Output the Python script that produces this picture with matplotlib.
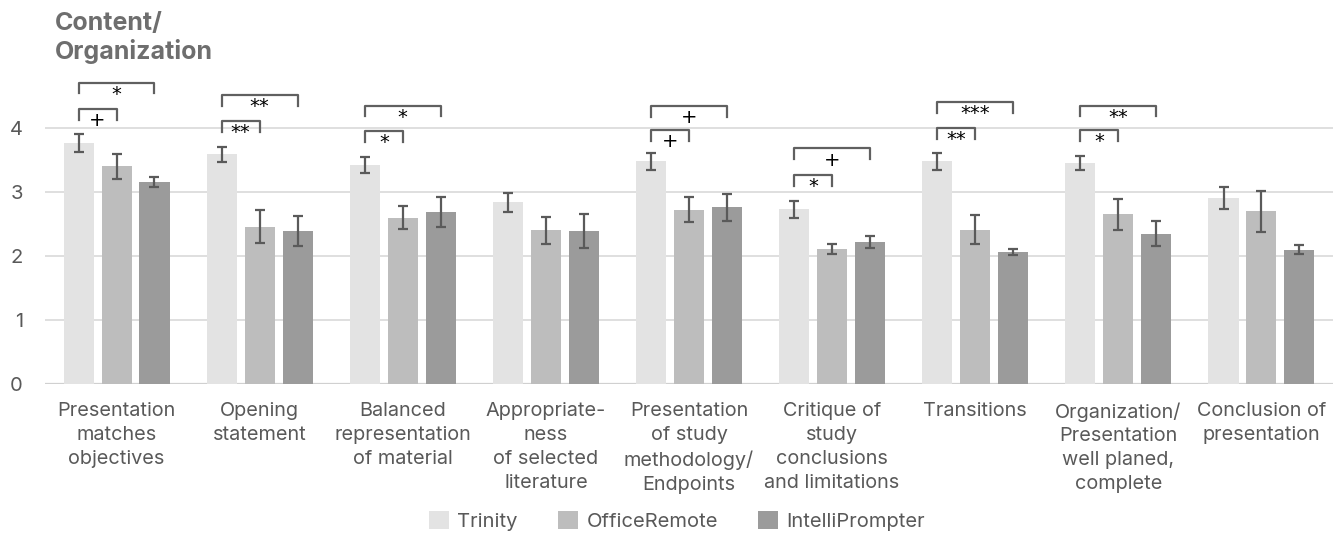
import matplotlib
matplotlib.use('Agg')
import matplotlib.pyplot as plt
import numpy as np

categories = ['Presentation\nmatches\nobjectives', 'Opening\nstatement',
              'Balanced\nrepresentation\nof material',
              'Appropriate-\nness\nof selected\nliterature',
              'Presentation\nof study\nmethodology/\nEndpoints',
              'Critique of\nstudy\nconclusions\nand limitations',
              'Transitions',
              'Organization/\nPresentation\nwell planed,\ncomplete',
              'Conclusion of\npresentation']
series = ['Trinity', 'OfficeRemote', 'IntelliPrompter']
trinity = [3.76, 3.59, 3.42, 2.84, 3.48, 2.73, 3.48, 3.45, 2.91]
office_remote = [3.40, 2.46, 2.60, 2.40, 2.72, 2.11, 2.41, 2.65, 2.70]
intelli = [3.16, 2.39, 2.69, 2.39, 2.76, 2.22, 2.06, 2.35, 2.10]
trinity_err = [0.14, 0.12, 0.125, 0.15, 0.13, 0.13, 0.13, 0.11, 0.17]
office_err = [0.20, 0.26, 0.185, 0.21, 0.195, 0.075, 0.23, 0.24, 0.32]
intelli_err = [0.08, 0.235, 0.23, 0.26, 0.21, 0.10, 0.05, 0.19, 0.065]

# significance brackets: (category, compared series index, bracket height, label)
brackets = [
    (0, 1, 4.30, '+'), (0, 2, 4.71, '*'),
    (1, 1, 4.11, '**'), (1, 2, 4.52, '**'),
    (2, 1, 3.95, '*'), (2, 2, 4.35, '*'),
    (4, 1, 3.97, '+'), (4, 2, 4.34, '+'),
    (5, 1, 3.27, '*'), (5, 2, 3.68, '+'),
    (6, 1, 4.00, '**'), (6, 2, 4.41, '***'),
    (7, 1, 3.97, '*'), (7, 2, 4.35, '**'),
]

colors = ['#e3e3e3', '#bdbdbd', '#9b9b9b']
text_gray = '#595959'

fig = plt.figure(figsize=(13.43, 5.36), dpi=100)
ax = fig.add_axes([45 / 1343, (536 - 384) / 536, 1288 / 1343, 320 / 536])

x = np.arange(len(categories))
offset = 0.265
width = 0.21
values = [trinity, office_remote, intelli]
errors = [trinity_err, office_err, intelli_err]
for i, (vals, errs) in enumerate(zip(values, errors)):
    ax.bar(x + (i - 1) * offset, vals, width, color=colors[i], label=series[i], zorder=2)
    ax.errorbar(x + (i - 1) * offset, vals, yerr=errs, fmt='none', ecolor='#5a5a5a',
                elinewidth=1.6, capsize=3.5, capthick=1.6, zorder=3)

leg_h = 0.17
for cat, idx, h, lab in brackets:
    x0 = cat - offset
    x1 = cat + (idx - 1) * offset
    ax.plot([x0, x0, x1, x1], [h - leg_h, h, h, h - leg_h], color='#606060', lw=1.6,
            clip_on=False, zorder=4)
    ax.text((x0 + x1) / 2, h - 0.18, lab, ha='center', va='center', fontsize=14,
            color='black', family='DejaVu Sans')

ax.set_xlim(-0.5, len(categories) - 0.5)
ax.set_ylim(0, 5)
ax.set_yticks([0, 1, 2, 3, 4])
ax.yaxis.grid(True, color='#d9d9d9', lw=1.2, zorder=0)
ax.set_axisbelow(True)
for s in ax.spines.values():
    s.set_visible(False)
ax.axhline(0, color='#d0d0d0', lw=1.6, zorder=1)
ax.tick_params(axis='both', length=0)
ax.tick_params(axis='y', pad=16, labelcolor=text_gray)
ax.set_yticklabels(['0', '1', '2', '3', '4'], family='Inter', fontsize=14.5)
ax.set_xticks(x)
ax.set_xticklabels(categories, family='Inter', fontsize=14.3, color=text_gray,
                   linespacing=1.42)
ax.tick_params(axis='x', pad=13)

fig.text(55 / 1343, 1 - 12 / 536, 'Content/\nOrganization', ha='left', va='top',
         family='Inter', fontweight='bold', fontsize=18, color='#6e6e6e', linespacing=1.2)

fig.legend(loc='center', bbox_to_anchor=(677 / 1343, 1 - 521 / 536), ncol=3,
           frameon=False, prop={'family': 'Inter', 'size': 14.5}, labelcolor=text_gray,
           handlelength=1.0, handleheight=1.0, columnspacing=2.0, handletextpad=0.4)

fig.savefig('out.png', dpi=100)
